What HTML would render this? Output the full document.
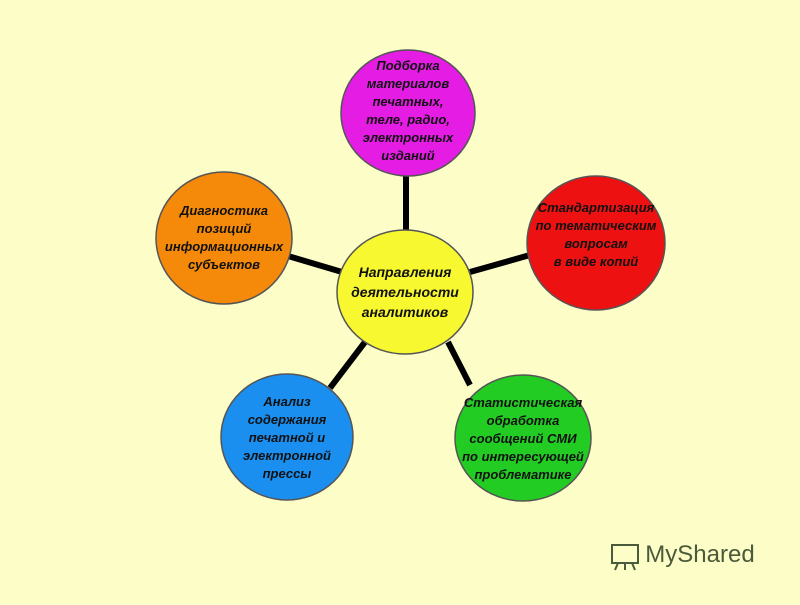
<!DOCTYPE html>
<html><head><meta charset="utf-8"><style>
body{margin:0;background:#fdfdc8;}
svg text{font-family:"Liberation Sans",sans-serif;font-weight:bold;font-style:italic;font-size:13px;fill:#111;text-anchor:middle}
</style></head><body>
<svg width="800" height="600" viewBox="0 0 800 600">
<rect width="800" height="600" fill="#fdfdc8"/>
<g stroke="#000" stroke-width="6">
<line x1="406" y1="170" x2="406" y2="232"/>
<line x1="470" y1="272" x2="530" y2="255"/>
<line x1="448" y1="342" x2="470" y2="385"/>
<line x1="365" y1="342" x2="330" y2="388"/>
<line x1="342" y1="272" x2="288" y2="256"/>
</g>
<g stroke="#555" stroke-width="1.5">
<ellipse cx="408" cy="113" rx="67" ry="63" fill="#e41ce4"/>
<ellipse cx="596" cy="243" rx="69" ry="67" fill="#ee1111"/>
<ellipse cx="523" cy="438" rx="68" ry="63" fill="#22cc22"/>
<ellipse cx="287" cy="437" rx="66" ry="63" fill="#1a8ff0"/>
<ellipse cx="224" cy="238" rx="68" ry="66" fill="#f58a0a"/>
<ellipse cx="405" cy="292" rx="68" ry="62" fill="#f8f830"/>
</g>
<text x="408" y="70">Подборка</text>
<text x="408" y="88">материалов</text>
<text x="408" y="106">печатных,</text>
<text x="408" y="124">теле, радио,</text>
<text x="408" y="142">электронных</text>
<text x="408" y="160">изданий</text>
<text x="596" y="212">Стандартизация</text>
<text x="596" y="230">по тематическим</text>
<text x="596" y="248">вопросам</text>
<text x="596" y="266">в виде копий</text>
<text x="523" y="407">Статистическая</text>
<text x="523" y="425">обработка</text>
<text x="523" y="443">сообщений СМИ</text>
<text x="523" y="461">по интересующей</text>
<text x="523" y="479">проблематике</text>
<text x="287" y="406">Анализ</text>
<text x="287" y="424">содержания</text>
<text x="287" y="442">печатной и</text>
<text x="287" y="460">электронной</text>
<text x="287" y="478">прессы</text>
<text x="224" y="215">Диагностика</text>
<text x="224" y="233">позиций</text>
<text x="224" y="251">информационных</text>
<text x="224" y="269">субъектов</text>
<g style="font-size:14px;font-weight:normal">
<text x="405" y="277" style="font-size:14px">Направления</text>
<text x="405" y="297" style="font-size:14px">деятельности</text>
<text x="405" y="317" style="font-size:14px">аналитиков</text>
</g>
<g stroke="#4a5a3a" stroke-width="2" fill="none">
<rect x="612" y="545" width="26" height="18"/>
<line x1="618" y1="563" x2="615" y2="570"/><line x1="625" y1="563" x2="625" y2="570"/><line x1="632" y1="563" x2="635" y2="570"/>
</g>
<text x="700" y="562" style="font-style:normal;font-weight:normal;font-size:24px;fill:#4a5a3a">MyShared</text>
</svg>
</body></html>
